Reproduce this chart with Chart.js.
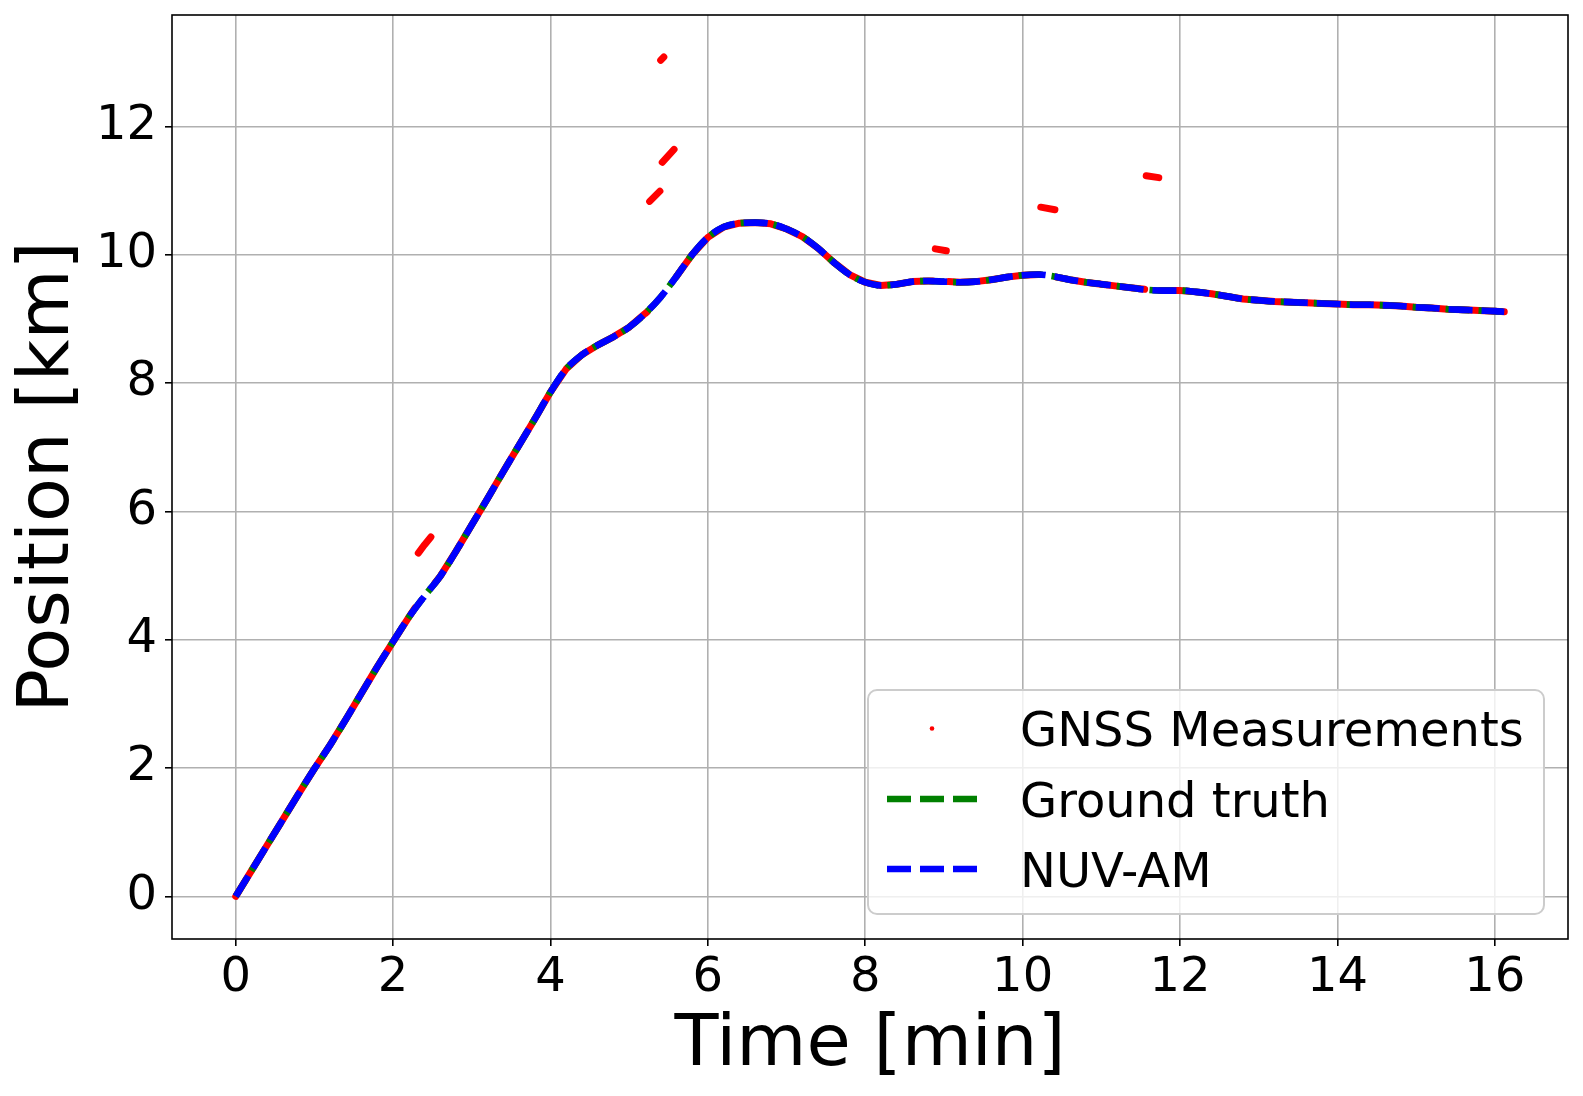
<!DOCTYPE html>
<html>
<head>
<meta charset="utf-8">
<title>Position [km] vs Time [min]</title>
<script src="https://cdn.jsdelivr.net/npm/chart.js@4.4.1/dist/chart.umd.min.js"></script>
<style>
  html, body { margin: 0; padding: 0; background: #fff; }
  #chart { display: block; }
</style>
</head>
<body>
<canvas id="chart" width="1583" height="1096"></canvas>
<script>
// values

const timeMin = [
  0, 0.2, 0.4, 0.6, 0.8, 1.0, 1.2, 1.4, 1.6, 1.8,
  2.0, 2.2, 2.4, 2.6, 2.8, 3.0, 3.2, 3.4, 3.6, 3.8,
  4.0, 4.2, 4.4, 4.6, 4.8, 5.0, 5.2, 5.4, 5.6, 5.8,
  6.0, 6.2, 6.4, 6.6, 6.8, 7.0, 7.2, 7.4, 7.6, 7.8,
  8.0, 8.2, 8.4, 8.6, 8.8, 9.0, 9.2, 9.4, 9.6, 9.8,
  10.0, 10.2, 10.4, 10.6, 10.8, 11.0, 11.2, 11.4, 11.6, 11.8,
  12.0, 12.2, 12.4, 12.6, 12.8, 13.0, 13.2, 13.4, 13.6, 13.8,
  14.0, 14.2, 14.4, 14.6, 14.8, 15.0, 15.2, 15.4, 15.6, 15.8,
  16.0, 16.12
];

const groundTruthKm = [
  0, 0.40, 0.80, 1.20, 1.60, 1.99, 2.36, 2.76, 3.17, 3.58,
  3.97, 4.35, 4.68, 4.99, 5.38, 5.79, 6.20, 6.62, 7.03, 7.44,
  7.86, 8.22, 8.44, 8.59, 8.72, 8.87, 9.08, 9.34, 9.66, 10.00,
  10.27, 10.43, 10.49, 10.50, 10.48, 10.40, 10.28, 10.10, 9.88, 9.69,
  9.57, 9.52, 9.54, 9.58, 9.59, 9.58, 9.57, 9.58, 9.61, 9.65,
  9.68, 9.69, 9.66, 9.61, 9.57, 9.54, 9.51, 9.48, 9.45, 9.44,
  9.44, 9.42, 9.39, 9.35, 9.31, 9.29, 9.27, 9.26, 9.25, 9.24,
  9.23, 9.22, 9.22, 9.21, 9.20, 9.18, 9.17, 9.15, 9.14, 9.13,
  9.12, 9.11
];

// the estimate lies on top of the ground truth everywhere in the picture
const nuvAmKm = groundTruthKm.slice();

// GNSS measurements that follow the track (null = break)
const gnssTrackTime = [
  0, 0.2, 0.4, 0.6, 0.8, 1.0, 1.2, 1.4, 1.6, 1.8, 2.0, 2.2, 2.28, null,
  2.53, 2.6, 2.8, 3.0, 3.2, 3.4, 3.6, 3.8, 4.0, 4.2, 4.4, 4.6, 4.8, 5.0, 5.2, 5.23, null,
  5.6, 5.8, 6.0, 6.2, 6.4, 6.6, 6.8, 7.0, 7.2, 7.4, 7.6, 7.8, 8.0, 8.2, 8.4, 8.6, 8.8, 8.86, null,
  9.06, 9.2, 9.4, 9.6, 9.8, 10.0, 10.2, 10.21, null,
  10.43, 10.6, 10.8, 11.0, 11.2, 11.4, 11.55, null,
  11.75, 11.8, 12.0, 12.2, 12.4, 12.6, 12.8, 13.0, 13.2, 13.4, 13.6, 13.8,
  14.0, 14.2, 14.4, 14.6, 14.8, 15.0, 15.2, 15.4, 15.6, 15.8, 16.0, 16.12
];
const gnssTrackKm = [
  0, 0.40, 0.80, 1.20, 1.60, 1.99, 2.36, 2.76, 3.17, 3.58, 3.97, 4.35, 4.50, null,
  4.88, 4.99, 5.38, 5.79, 6.20, 6.62, 7.03, 7.44, 7.86, 8.22, 8.44, 8.59, 8.72, 8.87, 9.08, 9.11, null,
  9.66, 10.00, 10.27, 10.43, 10.49, 10.50, 10.48, 10.40, 10.28, 10.10, 9.88, 9.69, 9.57, 9.52, 9.54, 9.58, 9.59, 9.59, null,
  9.58, 9.57, 9.58, 9.61, 9.65, 9.68, 9.69, 9.69, null,
  9.65, 9.61, 9.57, 9.54, 9.51, 9.48, 9.46, null,
  9.44, 9.44, 9.44, 9.42, 9.39, 9.35, 9.31, 9.29, 9.27, 9.26, 9.25, 9.24,
  9.23, 9.22, 9.22, 9.21, 9.20, 9.18, 9.17, 9.15, 9.14, 9.13, 9.12, 9.11
];

// GNSS outliers (short bursts above the track)
const gnssOutlierTime = [
  2.32, 2.40, 2.48, null,
  5.26, 5.39, null,
  5.40, 5.44, null,
  5.42, 5.57, null,
  8.89, 9.03, null,
  10.23, 10.41, null,
  11.57, 11.73
];
const gnssOutlierKm = [
  5.35, 5.48, 5.60, null,
  10.83, 10.99, null,
  13.03, 13.08, null,
  11.44, 11.64, null,
  10.09, 10.06, null,
  10.74, 10.70, null,
  11.23, 11.20
];

const xTicks = [0, 2, 4, 6, 8, 10, 12, 14, 16];
const yTicks = [0, 2, 4, 6, 8, 10, 12];
const seriesLabels = ["GNSS Measurements", "Ground truth", "NUV-AM"];

const FONT = "'DejaVu Sans', 'Liberation Sans', sans-serif";
const RED = "#ff0000", GREEN = "#008000", BLUE = "#0000ff";
const DASH = [24, 9];

function toPoints(xs, ys) {
  return xs.map((x, i) => ({ x: x, y: ys[i] }));
}

const gnssPoints = toPoints(gnssTrackTime, gnssTrackKm)
  .concat([{ x: null, y: null }])
  .concat(toPoints(gnssOutlierTime, gnssOutlierKm));

// frame, axis titles and the in-plot legend, drawn like matplotlib does
const decorations = {
  id: "decorations",
  afterDraw(chart) {
    const ctx = chart.ctx;
    const a = chart.chartArea;
    ctx.save();

    // axes box
    ctx.strokeStyle = "#000";
    ctx.lineWidth = 1.6;
    ctx.strokeRect(a.left, a.top, a.right - a.left, a.bottom - a.top);

    // axis titles
    ctx.fillStyle = "#000";
    ctx.font = "72px " + FONT;
    ctx.textAlign = "center";
    ctx.textBaseline = "alphabetic";
    ctx.fillText("Time [min]", (a.left + a.right) / 2, 1065);
    ctx.save();
    ctx.translate(68, (a.top + a.bottom) / 2);
    ctx.rotate(-Math.PI / 2);
    ctx.fillText("Position [km]", 0, 0);
    ctx.restore();

    // legend box
    const bx = 868, by = 690, bw = 676, bh = 224, r = 9;
    ctx.beginPath();
    ctx.moveTo(bx + r, by);
    ctx.lineTo(bx + bw - r, by);
    ctx.arcTo(bx + bw, by, bx + bw, by + r, r);
    ctx.lineTo(bx + bw, by + bh - r);
    ctx.arcTo(bx + bw, by + bh, bx + bw - r, by + bh, r);
    ctx.lineTo(bx + r, by + bh);
    ctx.arcTo(bx, by + bh, bx, by + bh - r, r);
    ctx.lineTo(bx, by + r);
    ctx.arcTo(bx, by, bx + r, by, r);
    ctx.closePath();
    ctx.fillStyle = "rgba(255,255,255,0.8)";
    ctx.fill();
    ctx.strokeStyle = "#cccccc";
    ctx.lineWidth = 2;
    ctx.stroke();

    const rows = [746, 816.5, 886.5];
    const hx0 = 887, hx1 = 977;
    ctx.font = "48px " + FONT;
    ctx.textAlign = "left";
    ctx.fillStyle = "#000";
    seriesLabels.forEach((label, i) => {
      const cy = rows[i] - 17.5;
      if (i === 0) {
        ctx.beginPath();
        ctx.fillStyle = RED;
        ctx.arc((hx0 + hx1) / 2, cy, 2.3, 0, Math.PI * 2);
        ctx.fill();
      } else {
        ctx.beginPath();
        ctx.strokeStyle = i === 1 ? GREEN : BLUE;
        ctx.lineWidth = 6.6;
        ctx.setLineDash(DASH);
        ctx.moveTo(hx0, cy);
        ctx.lineTo(hx1, cy);
        ctx.stroke();
        ctx.setLineDash([]);
      }
      ctx.fillStyle = "#000";
      ctx.fillText(label, 1020, rows[i]);
    });

    ctx.restore();
  }
};

const tickFont = { family: FONT, size: 48 };

new Chart(document.getElementById("chart"), {
  type: "line",
  data: {
    datasets: [
      {
        label: seriesLabels[2],
        data: toPoints(timeMin, nuvAmKm),
        borderColor: BLUE,
        borderWidth: 6.6,
        borderDash: DASH,
        cubicInterpolationMode: "monotone",
        pointRadius: 0,
        fill: false,
        order: 1
      },
      {
        label: seriesLabels[1],
        data: toPoints(timeMin, groundTruthKm),
        borderColor: GREEN,
        borderWidth: 6.6,
        borderDash: DASH,
        borderDashOffset: 3,
        cubicInterpolationMode: "monotone",
        pointRadius: 0,
        fill: false,
        order: 2
      },
      {
        label: seriesLabels[0],
        data: gnssPoints,
        borderColor: RED,
        borderWidth: 7,
        borderCapStyle: "round",
        borderJoinStyle: "round",
        tension: 0,
        spanGaps: false,
        pointRadius: 0,
        fill: false,
        order: 3
      }
    ]
  },
  options: {
    responsive: false,
    animation: false,
    devicePixelRatio: 1,
    layout: { padding: { top: 15, right: 15, left: 0, bottom: 0 } },
    plugins: {
      legend: { display: false },
      tooltip: { enabled: false }
    },
    scales: {
      x: {
        type: "linear",
        min: -0.81,
        max: 16.93,
        afterBuildTicks: (s) => { s.ticks = xTicks.map((v) => ({ value: v })); },
        afterFit: (s) => { s.height = 157; s.paddingLeft = 0; s.paddingRight = 0; },
        border: { display: false },
        grid: { color: "#b0b0b0", lineWidth: 1.6, tickLength: 7, tickColor: "#000", tickWidth: 1.6 },
        ticks: { color: "#000", font: tickFont, padding: 4, maxRotation: 0, autoSkip: false, callback: (v) => String(v) }
      },
      y: {
        type: "linear",
        min: -0.665,
        max: 13.735,
        afterBuildTicks: (s) => { s.ticks = yTicks.map((v) => ({ value: v })); },
        afterFit: (s) => { s.width = 172; s.paddingTop = 0; s.paddingBottom = 0; },
        border: { display: false },
        grid: { color: "#b0b0b0", lineWidth: 1.6, tickLength: 7, tickColor: "#000", tickWidth: 1.6 },
        ticks: { color: "#000", font: tickFont, padding: 8, autoSkip: false, callback: (v) => String(v) }
      }
    }
  },
  plugins: [decorations]
});
</script>
</body>
</html>
